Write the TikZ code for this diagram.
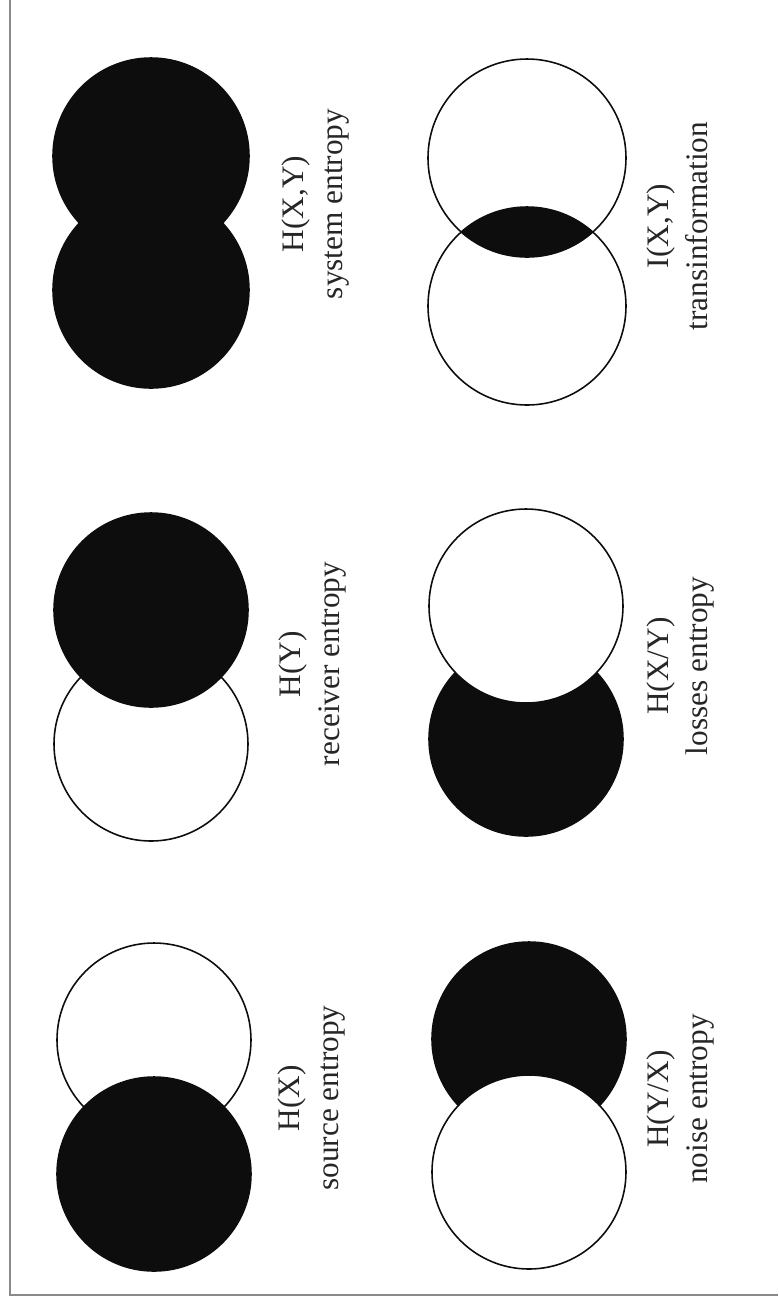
\documentclass[tikz,border=0pt]{standalone}
\usepackage{fontspec}
\setmainfont{Liberation Serif}
\usepackage{tikz}
\definecolor{ink}{HTML}{0D0D0D}
\definecolor{print}{HTML}{262626}
\definecolor{edge}{HTML}{8A8A8A}

\begin{document}
\begin{tikzpicture}[x=1cm,y=1cm,
  hollow/.style={draw=ink,fill=white,line width=0.45pt},
  inked/.style={draw=ink,fill=ink,line width=0.45pt},
  lbl/.style={rotate=90,anchor=base,inner sep=0pt,text=print,font=\fontsize{8.9}{10.7}\selectfont}]
  \useasboundingbox (0,0) rectangle (7.78,-13.04);
  \draw[edge,line width=0.6pt] (0.10,0) -- (0.10,-12.95) -- (7.78,-12.95);

  % H(X,Y)
  \draw[inked] (1.51,-1.56) circle (0.98);
  \draw[inked] (1.51,-2.90) circle (0.98);
  \node[lbl] (hxy) at (3.03,-2.04) {H(X,Y)};
  \node[lbl] (hxyt) at (3.42,-2.04) {system entropy};

  % I(X,Y)
  \begin{scope}
    \clip (5.27,-1.58) circle (0.99);
    \fill[ink] (5.27,-3.06) circle (0.99);
  \end{scope}
  \draw[hollow,fill=none] (5.27,-1.58) circle (0.99);
  \draw[hollow,fill=none] (5.27,-3.06) circle (0.99);
  \node[lbl] (ixy) at (6.68,-2.26) {I(X,Y)};
  \node[lbl] (ixyt) at (7.07,-2.26) {transinformation};

  % H(Y)
  \draw[hollow] (1.51,-7.44) circle (0.97);
  \draw[inked] (1.51,-6.10) circle (0.97);
  \node[lbl] (hy) at (3.00,-6.64) {H(Y)};
  \node[lbl] (hyt) at (3.39,-6.64) {receiver entropy};

  % H(X/Y)
  \draw[inked] (5.26,-7.39) circle (0.97);
  \draw[hollow] (5.26,-6.06) circle (0.97);
  \node[lbl] (hxgy) at (6.68,-6.66) {H(X/Y)};
  \node[lbl] (hxgyt) at (7.07,-6.66) {losses entropy};

  % H(X)
  \draw[hollow] (1.54,-10.40) circle (0.97);
  \draw[inked] (1.54,-11.74) circle (0.97);
  \node[lbl] (hx) at (2.99,-10.98) {H(X)};
  \node[lbl] (hxt) at (3.38,-10.98) {source entropy};

  % H(Y/X)
  \draw[inked] (5.29,-10.39) circle (0.97);
  \draw[hollow] (5.29,-11.72) circle (0.97);
  \node[lbl] (hygx) at (6.68,-10.99) {H(Y/X)};
  \node[lbl] (hygxt) at (7.07,-10.99) {noise entropy};
\end{tikzpicture}
\end{document}
